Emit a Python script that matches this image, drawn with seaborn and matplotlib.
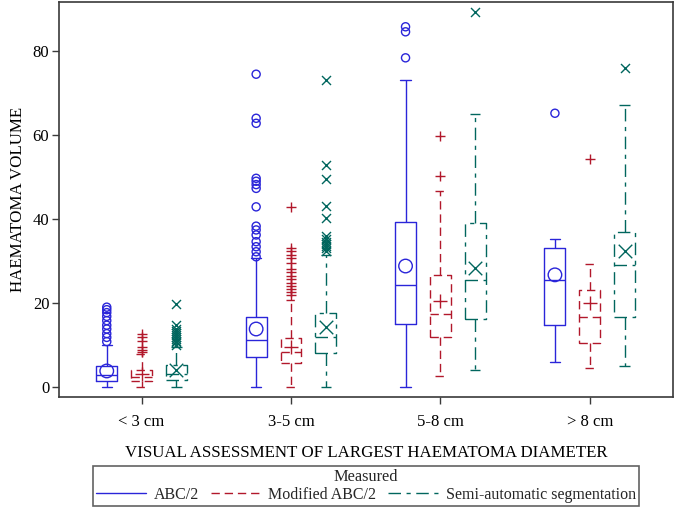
import numpy as np
import pandas as pd
import matplotlib
matplotlib.use("Agg")
import matplotlib.pyplot as plt
import seaborn as sns
from matplotlib.lines import Line2D
from matplotlib.colors import to_rgba

# ---------------- data ----------------
categories = ["< 3 cm", "3-5 cm", "5-8 cm", "> 8 cm"]
methods = ["ABC/2", "Modified ABC/2", "Semi-automatic segmentation"]

# five-number summaries per category: [whisker low, Q1, median, Q3, whisker high]
abc_five = [[0.1, 1.5, 2.9, 5.0, 10.0],
            [0.1, 7.1, 11.1, 16.6, 30.8],
            [0.1, 15.0, 24.4, 39.4, 73.1],
            [6.0, 14.8, 25.5, 33.0, 35.2]]
mod_five = [[0.1, 1.5, 2.3, 4.0, 7.8],
            [0.1, 5.6, 8.4, 11.6, 20.8],
            [2.5, 12.0, 17.4, 26.7, 46.7],
            [4.4, 10.4, 16.7, 23.1, 29.4]]
seg_five = [[0.1, 1.7, 3.0, 5.2, 9.6],
            [0.1, 8.0, 11.8, 17.6, 31.5],
            [4.0, 16.2, 25.5, 39.0, 65.0],
            [5.0, 16.7, 29.0, 37.0, 67.1]]

abc_mean = [3.8, 13.8, 28.8, 26.7]
mod_mean = [3.1, 9.6, 20.5, 19.9]
seg_mean = [4.0, 14.2, 28.4, 32.5]

abc_out = [[10.8, 11.8, 12.7, 13.8, 14.7, 15.8, 16.8, 17.7, 18.4, 19.0],
           [31.0, 32.2, 33.4, 34.6, 36.2, 37.4, 38.3, 42.9, 47.3, 48.2, 49.0, 49.7, 62.8, 64.0, 74.5],
           [78.4, 84.6, 85.8],
           [65.2]]
mod_out = [[8.3, 8.9, 9.4, 10.9, 11.8, 12.6],
           [21.8, 22.5, 23.3, 24.0, 24.8, 25.6, 26.5, 27.3, 28.2, 29.5, 30.6, 31.4, 32.3, 33.0, 42.8],
           [50.3, 59.8],
           [54.4]]
seg_out = [[10.1, 10.6, 11.0, 11.5, 11.9, 12.3, 12.8, 13.3, 13.9, 14.8, 19.8],
           [32.4, 33.0, 33.6, 34.1, 34.6, 35.2, 36.0, 40.3, 43.2, 49.6, 52.8, 73.0],
           [89.4],
           [75.9]]

colors = ["#2A25D9", "#B2182B", "#01665E"]
linestyles = ["-", (0, (6, 3.5)), (0, (9, 4, 3, 4))]
mean_markers = ["o", "+", "x"]

# ---------------- figure ----------------
sns.set_theme(style="ticks")
plt.rcParams["font.family"] = ["Liberation Serif", "DejaVu Serif"]

W, H = 675, 509
fig = plt.figure(figsize=(W / 100, H / 100), dpi=100)
ax = fig.add_axes([59 / W, 1 - 397 / H, (673 - 59) / W, (397 - 2) / H])

rows = []
for m, five in zip(methods, [abc_five, mod_five, seg_five]):
    for c, vals in zip(categories, five):
        for v in vals:
            rows.append((c, m, v))
box_df = pd.DataFrame(rows, columns=["category", "method", "volume"])

box_width = 0.7
sns.boxplot(data=box_df, x="category", y="volume", hue="method",
            order=categories, hue_order=methods, palette=colors,
            fill=False, width=box_width, gap=0.4, whis=(0, 100),
            showfliers=False, linewidth=1.0, legend=False, ax=ax)

# line style per series
for line in ax.lines:
    col = to_rgba(line.get_color())
    for c, ls in zip(colors, linestyles):
        if np.allclose(col, to_rgba(c), atol=0.02):
            line.set_linestyle(ls)

# means and outliers
means_all = [abc_mean, mod_mean, seg_mean]
outs_all = [abc_out, mod_out, seg_out]
n = len(methods)
for i, (col, mk, means, outs) in enumerate(zip(colors, mean_markers, means_all, outs_all)):
    off = (i - (n - 1) / 2) * box_width / n
    mx = [j + off for j in range(len(categories))]
    ox, oy = [], []
    for j, vals in enumerate(outs):
        ox += [j + off] * len(vals)
        oy += vals
    if mk == "o":
        sns.scatterplot(x=mx, y=means, marker=mk, s=95, facecolor="none",
                        edgecolor=col, linewidth=1.0, ax=ax, zorder=5)
        sns.scatterplot(x=ox, y=oy, marker=mk, s=34, facecolor="none",
                        edgecolor=col, linewidth=1.0, ax=ax, zorder=5)
    else:
        sns.scatterplot(x=mx, y=means, marker=mk, s=95, color=col,
                        linewidth=1.0, ax=ax, zorder=5)
        sns.scatterplot(x=ox, y=oy, marker=mk, s=42, color=col,
                        linewidth=1.0, ax=ax, zorder=5)

ax.set_xlim(-0.553, 3.557)
ax.set_ylim(-2.4, 91.7)
ax.set_xticks(range(len(categories)))
ax.set_xticklabels(categories)
ax.set_yticks([0, 20, 40, 60, 80])
ax.set_yticklabels(["0", "20", "40", "60", "80"])

spine_col = "#3a3a3a"
for s in ax.spines.values():
    s.set_visible(True)
    s.set_color(spine_col)
    s.set_linewidth(1.2)
ax.tick_params(axis="both", direction="out", length=5, width=1, color=spine_col,
               labelsize=12, labelcolor="black", top=False, right=False)
ax.tick_params(axis="x", pad=7)
ax.tick_params(axis="y", pad=2)

ax.set_xlabel("VISUAL ASSESSMENT OF LARGEST HAEMATOMA DIAMETER", fontsize=12.2, labelpad=11, color="black")
ax.set_ylabel("HAEMATOMA VOLUME", fontsize=12.2, labelpad=5, color="black")

handles = [Line2D([], [], color=c, ls=ls, lw=1.0) for c, ls in zip(colors, linestyles)]
leg = fig.legend(handles, methods, title="Measured", ncol=3, loc="upper center",
                 bbox_to_anchor=(366 / W, 1 - 466 / H), frameon=True, fancybox=False,
                 edgecolor=spine_col, fontsize=11.5, title_fontsize=11.8,
                 handlelength=3.1, columnspacing=0.75, handletextpad=0.5,
                 borderpad=0.2, labelspacing=0.1, borderaxespad=0)
leg.get_frame().set_linewidth(1.2)

fig.savefig("out.png", dpi=100)
